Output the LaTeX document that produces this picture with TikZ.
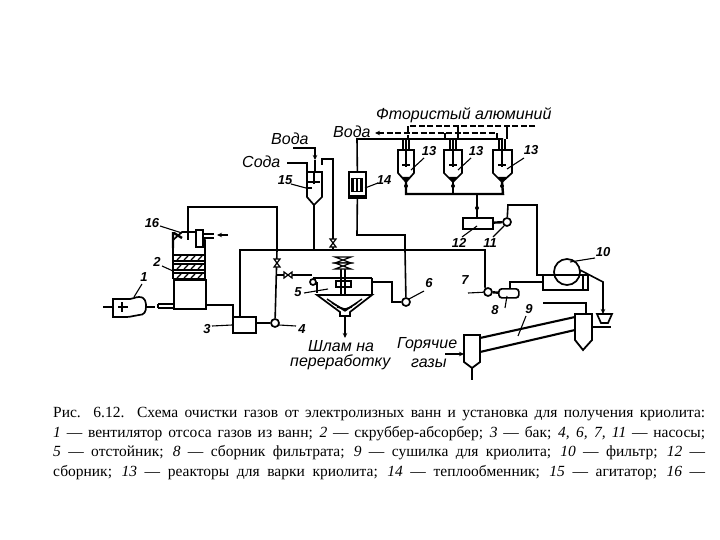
\documentclass[tikz,border=0pt]{standalone}
\usepackage{fontspec}
\setmainfont{Liberation Serif}
\newfontfamily\lblfont{Liberation Sans}
\usetikzlibrary{arrows.meta,patterns}
\tikzset{
 pipe/.style={line width=1.6pt,line join=miter},
 thick pipe/.style={line width=2.4pt},
 leader/.style={line width=1.1pt},
 dashpipe/.style={line width=1.5pt,dash pattern=on 6pt off 2.5pt},
 flow/.style={-{Stealth[length=5pt,width=4.5pt]},line width=1.3pt},
 vessel/.style={draw,line width=1.7pt,fill=white,inner sep=0pt,minimum width=#1},
 pumpc/.style={draw,circle,line width=1.7pt,fill=white,inner sep=0pt,minimum size=8pt},
 lbl/.style={font=\lblfont\itshape\fontsize{16}{16}\selectfont,inner sep=0pt},
 num/.style={font=\lblfont\itshape\bfseries\fontsize{13}{13}\selectfont,inner sep=0pt},
 captext/.style={anchor=west,inner sep=0pt,font=\fontsize{15.5}{15.5}\selectfont},
}
\newcommand{\capline}[4]{\node[captext] (#1) at (#2,#3) {\makebox[652pt][s]{#4}};}
\newcommand{\valvev}[2]{\draw[line width=1.2pt,fill=white] (#1-3,#2-4)--(#1+3,#2-4)--(#1-3,#2+4)--(#1+3,#2+4)--cycle;}
\newcommand{\valveh}[2]{\draw[line width=1.2pt,fill=white] (#1-4,#2-3)--(#1-4,#2+3)--(#1+4,#2-3)--(#1+4,#2+3)--cycle;}
\newcommand{\reactor}[4]{% name, left, right, apex x
 \draw[line width=1.7pt,fill=white] (#2,150)--(#3,150)--(#3,173)--(#4,182)--(#2,173)--cycle;
 \coordinate (#1) at (#4,182);
 \coordinate (#1t) at (#4,150);
 \draw[line width=1.2pt] (#4,139)--(#4,167);
 \draw[line width=2.4pt] (#4-4,165)--(#4+4,165);
 \draw[line width=1.2pt] (#4-3,139)--(#4-3,150) (#4+3,139)--(#4+3,150);
 \fill (#4-4.5,177)--(#4+4.5,177)--(#4,182)--cycle;
}
\begin{document}
\begin{tikzpicture}[x=1pt,y=-1pt]
\useasboundingbox (0,0) rectangle (720,540);
\fill[white] (0,0) rectangle (720,540);

%% ---- equipment nodes
\node[vessel=32pt,minimum height=29pt,anchor=north west] (scrub) at (173,279) {};
\node[vessel=23pt,minimum height=16pt,anchor=north west] (tank3) at (232,316) {};
\node[pumpc] (p4) at (275,323) {};
\node[pumpc] (p6) at (406,302) {};
\node[pumpc] (p7) at (488,292) {};
\node[pumpc] (p11) at (507,222) {};
\node[vessel=30pt,minimum height=11pt,anchor=north west] (box12) at (462,217) {};
\node[vessel=20pt,minimum height=9pt,anchor=north west,rounded corners=3pt] (col8) at (498,288) {};
\node[vessel=17pt,minimum height=26pt,anchor=north west] (hx14) at (348,171) {};
\coordinate (j1) at (405,250);
\coordinate (j2) at (485,250);
\coordinate (j3) at (277,250);
\coordinate (j4) at (333,250);
\coordinate (j5) at (313,250);
\coordinate (t1) at (188,207);
\coordinate (t2) at (277,207);

%% ---- scrubber
\draw[line width=1.7pt] (173,250)--(173,279) (205,250)--(205,279);
\draw[line width=1.7pt,fill=white] (173,240)--(173,255)--(205,255)--(205,240)--(196,232)--(182,232)--cycle;
\foreach \a/\b in {255/261,264/270,273/279}{
 \draw[line width=1.5pt] (173,\a)--(205,\a) (173,\b)--(205,\b);
 \foreach \x in {177,184,191,198}{\draw[line width=1.4pt] (\x,\b-1)--(\x+4,\a+1);}
}
\draw[line width=2.4pt] (173,232)--(173,248) (174,233)--(182,238);
\draw[line width=2.4pt,fill=white] (196,230) rectangle (203,247);
\draw[line width=1.2pt] (203,234)--(214,234) (203,238)--(214,238);
\draw[flow] (228,235)--(217,235);
\draw[line width=1.2pt] (188,230)--(188,240);

%% ---- fan 1
\coordinate (fanL) at (113,307);
\coordinate (fanR) at (146,307);
\draw[line width=1.7pt,fill=white] (113,299)--(130,299) .. controls (133,299) and (135,297) .. (139,297) .. controls (146,297) and (146,303) .. (146,307) .. controls (146,312) and (144,315) .. (139,315) .. controls (135,315) and (133,317) .. (125,317)--(113,317)--cycle;
\draw[thick pipe] (fanL) -- +(-10,0);
\draw[line width=1.2pt] (122,302) -- (122,312) (118,307)--(128,307);
\draw[thick pipe] (fanR)--+(9,0);
\draw[line width=1.6pt] (158,304)--(173,304) (158,308)--(173,308) (158,304)--(158,308);

%% ---- pipes around scrubber, tank, pump 4
\draw[pipe] (188,232)--(t1)--(t2)--(j3);
\draw[pipe] (240,316)--(240,250)--(j3);
\draw[pipe] (205,305)--(233,305)--(233,316);
\draw[pipe] (tank3.east |- p4)--(p4);
\draw[pipe] (p4)--(277,250);
\draw[pipe] (j3)--(j5)--(j4)--(j1)--(j2)--(485,287)--(p7);
\valvev{277}{263}
\draw[pipe] (277,275)--(312,275);
\valveh{288}{275}
\draw[thick pipe] (p7)--(col8);

%% ---- settler 5
\draw[line width=1.7pt] (341,262)--(341,296) (345,262)--(345,296);
\foreach \y in {260,266}{\draw[line width=1.2pt,fill=white] (335,\y-3)--(351,\y-3)--(335,\y+3)--(351,\y+3)--cycle;}
\draw[line width=1.8pt] (313,278)--(372,278);
\draw[line width=1.7pt] (317,282)--(317,293);
\draw[line width=1.7pt] (372,278)--(372,295);
\draw[line width=1.7pt] (336,281) rectangle (351,287);
\draw[line width=1.7pt] (313,282) circle (3pt);
\draw[line width=1.7pt,fill=white] (317,295)--(372,295)--(350,312)--(350,316)--(340,316)--(340,312)--cycle;
\foreach \i in {1,2,3}{\draw[line width=1.4pt] (322+\i*5,295+\i*4)--(345,312-\i*1);\draw[line width=1.4pt] (367-\i*5,295+\i*4)--(345,312-\i*1);}
\draw[line width=1.5pt] (317,295)--(372,295);
\draw[flow] (345,316)--(345,338);
\draw[pipe] (372,282)--(392,282)--(392,302)--(p6);
\draw[pipe] (p6)--(j1);

%% ---- agitator 15 and feeds
\draw[line width=1.7pt,fill=white] (307,172)--(322,172)--(322,197)--(314,205)--(307,197)--cycle;
\coordinate (ag) at (314,205);
\draw[line width=1.2pt] (314,172)--(314,184);
\draw[line width=2.4pt] (308,182)--(320,182);
\draw[line width=1.2pt] (307,188)--(312,188);
\draw[pipe] (ag)--(j5 -| ag);
\draw[thick pipe] (287,163)--(307,163)--(307,172);
\draw[line width=1.2pt,-{Stealth[length=5pt,width=4.5pt]}] (293,148)--(315,148)--(315,160);
\draw[line width=1.2pt] (315,160)--(315,172);
\draw[thick pipe] (322,165)--(322,159)--(333,159)--(j4);
\valvev{333}{243}

%% ---- heat exchanger 14 and top pipe
\draw[pipe] (hx14.north)--(357,139)--(503,139);
\draw[pipe] (hx14.south)--(357,235)--(405,235)--(j1);
\fill (351,178) rectangle (363,192);
\draw[line width=1.5pt,white] (355,179)--(355,191) (359,179)--(359,191);
\draw[line width=2.8pt] (348,172)--(365,172) (348,196)--(365,196);

%% ---- reactors
\reactor{ra}{398}{414}{406}
\reactor{rb}{444}{462}{453}
\reactor{rc}{493}{512}{502}
\draw[thick pipe] (ra)--(406,194)--(503,194)--(rc);
\draw[thick pipe] (rb)--(453,194);
\coordinate (jc) at (477,194);
\draw[pipe] (jc)--(box12.north -| jc);
\fill (ra)++(0,4) circle (2pt);
\fill (rb)++(0,4) circle (2pt);
\fill (rc)++(0,4) circle (2pt);
\fill (477,208) circle (2pt);
\draw[thick pipe] (box12)--(p11);
\draw[pipe] (p11)--(508,205)--(537,205)--(537,275)--(543,275);

%% ---- dashed AlF3 and water
\draw[dashpipe,{Stealth[length=5pt,width=4.5pt]}-] (375,133)--(497,133)--(497,139);
\draw[dashpipe] (535,126)--(408,126)--(408,139);
\draw[dashpipe] (458,126)--(458,139) (445,133)--(445,139);
\draw[pipe] (507,126)--(507,139);

%% ---- filter 10
\draw[line width=1.7pt] (543,275)--(588,275)--(588,290)--(543,290)--cycle;
\draw[line width=1.4pt] (583,276)--(583,289);
\draw[line width=1.7pt] (567,272) circle (13pt);
\draw[pipe] (580,270)--(603,282)--(603,300);
\draw[flow] (603,300)--(603,314);
\draw[pipe] (510,288)--(510,282)--(543,282);
\draw[line width=1.7pt,fill=white] (597,314)--(612,314)--(608,323)--(601,323)--cycle;
\draw[line width=2.4pt] (592,327)--(611,327);

%% ---- dryer 9
\draw[line width=1.8pt,fill=white] (464,335)--(480,335)--(480,362)--(472,368)--(464,362)--cycle;
\draw[line width=1.8pt,fill=white] (575,314)--(592,314)--(592,340)--(583,350)--(575,340)--cycle;
\draw[line width=2.1pt] (480,338)--(575,317) (480,352)--(575,330);
\draw[thick pipe] (586,314)--(586,303)--(543,303);
\draw[pipe] (472,368)--(472,380);
\draw[flow] (445,354)--(464,354);

%% ---- leaders and numbers
\node[num] (n1) at (144,277) {1};
\draw[leader] (n1)++(-2,7)--(134,297);
\node[num] (n2) at (157,262) {2};
\draw[leader] (n2)++(5,4)--(173,271);
\node[num] (n3) at (207,329) {3};
\draw[leader] (n3)++(5,-3)--(232,325);
\node[num] (n4) at (302,329) {4};
\draw[leader] (n4)++(-6,-3)--(279,325);
\node[num] (n5) at (298,292) {5};
\draw[leader] (n5)++(6,1)--(328,289);
\node[num] (n6) at (429,283) {6};
\draw[leader] (n6)++(-5,8)--(409,299);
\node[num] (n7) at (465,280) {7};
\draw[leader] (468,293)--(p7);
\node[num] (n8) at (495,310) {8};
\draw[leader] (505,308)--(507,296);
\node[num] (n9) at (529,309) {9};
\draw[leader] (n9)++(-3,7)--(518,336);
\node[num] (n10) at (603,252) {10};
\draw[leader] (n10)++(-8,6)--(570,262);
\node[num] (n11) at (490,243) {11};
\draw[leader] (n11)++(3,-6)--(504,226);
\node[num] (n12) at (459,243) {12};
\draw[leader] (n12)++(3,-6)--(477,226);
\node[num] (n13a) at (429,151) {13};
\draw[leader] (n13a)++(-5,7)--(411,170);
\node[num] (n13b) at (476,151) {13};
\draw[leader] (n13b)++(-5,7)--(458,170);
\node[num] (n13c) at (531,150) {13};
\draw[leader] (n13c)++(-7,8)--(507,169);
\node[num] (n14) at (384,180) {14};
\draw[leader] (n14)++(-6,3)--(365,188);
\node[num] (n15) at (285,180) {15};
\draw[leader] (n15)++(6,4)--(306,188);
\node[num] (n16) at (152,223) {16};
\draw[leader] (n16)++(8,3)--(182,233);

%% ---- texts
\node[lbl,anchor=west] (tFA) at (376,115) {Фтористый алюминий};
\node[lbl,anchor=west] (tV1) at (333,132) {Вода};
\node[lbl,anchor=west] (tV2) at (271,139) {Вода};
\node[lbl,anchor=west] (tS) at (242,162) {Сода};
\node[lbl,anchor=west] (tSl) at (308,346) {Шлам на};
\node[lbl,anchor=west] (tPe) at (290,362) {переработку};
\node[lbl,anchor=west] (tG1) at (397,345) {Горячие};
\node[lbl,anchor=west] (tG2) at (411,363) {газы};

%% ---- caption
\capline{c1}{53}{414}{Рис. 6.12. Схема очистки газов от электролизных ванн и установка для получения криолита:}
\capline{c2}{53}{434}{\textit{1} — вентилятор отсоса газов из ванн; \textit{2} — скруббер-абсорбер; \textit{3} — бак; \textit{4, 6, 7, 11} — насосы;}
\capline{c3}{53}{453}{\textit{5} — отстойник; \textit{8} — сборник фильтрата; \textit{9} — сушилка для криолита; \textit{10} — фильтр; \textit{12} —}
\capline{c4}{53}{473}{сборник; \textit{13} — реакторы для варки криолита; \textit{14} — теплообменник; \textit{15} — агитатор; \textit{16} —}
\end{tikzpicture}
\end{document}
